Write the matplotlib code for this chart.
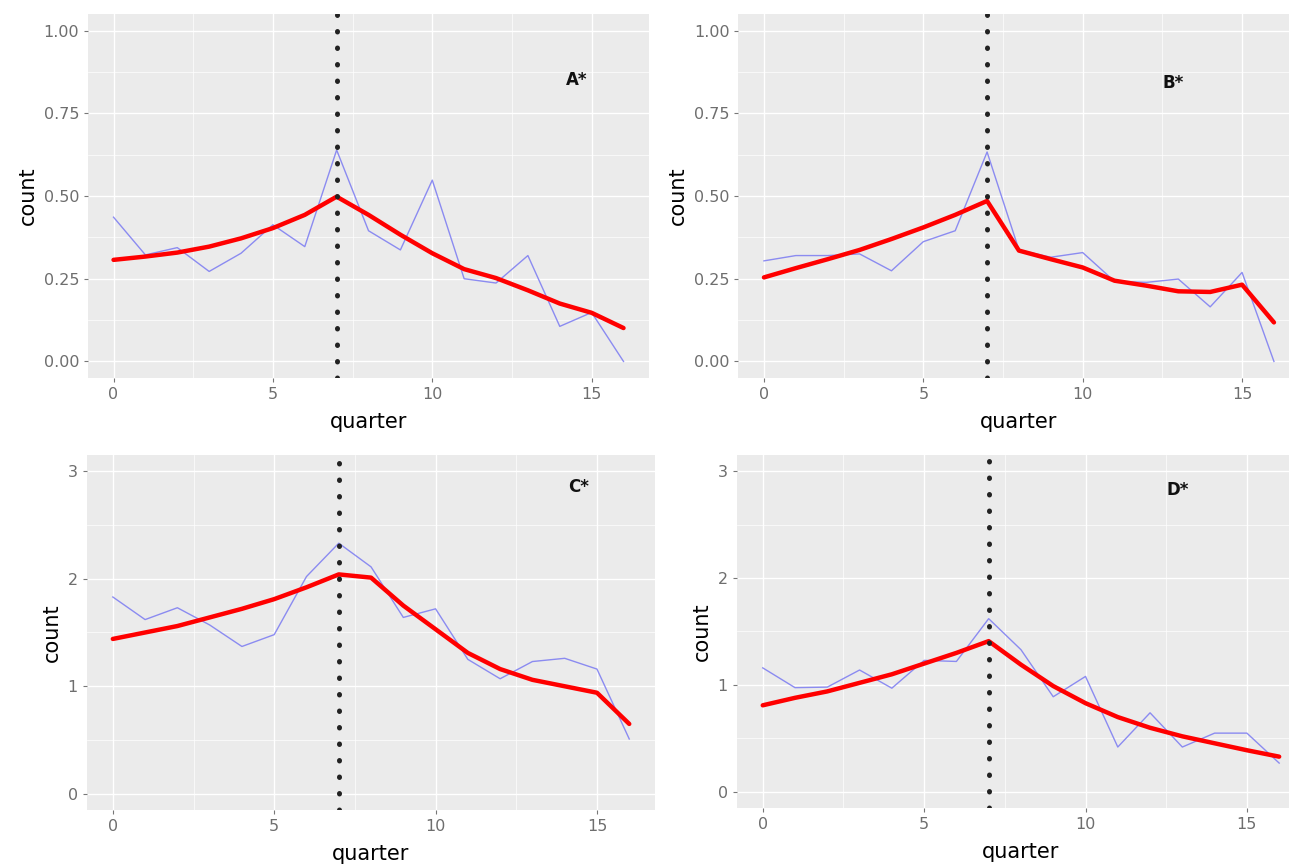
import numpy as np
import matplotlib.pyplot as plt
from matplotlib.ticker import MultipleLocator

quarters = list(range(17))

a_obs = [0.436, 0.322, 0.344, 0.272, 0.327, 0.413, 0.347, 0.639, 0.395, 0.337,
         0.548, 0.250, 0.237, 0.320, 0.106, 0.148, 0.000]
a_fit = [0.307, 0.317, 0.329, 0.347, 0.372, 0.403, 0.443, 0.498, 0.443, 0.383,
         0.327, 0.279, 0.252, 0.215, 0.175, 0.147, 0.101]

b_obs = [0.304, 0.320, 0.320, 0.325, 0.274, 0.362, 0.395, 0.633, 0.337, 0.315,
         0.329, 0.242, 0.239, 0.249, 0.165, 0.269, 0.000]
b_fit = [0.254, 0.282, 0.309, 0.337, 0.370, 0.405, 0.443, 0.485, 0.335, 0.309,
         0.284, 0.244, 0.229, 0.212, 0.210, 0.232, 0.118]

c_obs = [1.83, 1.62, 1.73, 1.57, 1.37, 1.48, 2.02, 2.33, 2.11, 1.64,
         1.72, 1.25, 1.07, 1.23, 1.26, 1.16, 0.51]
c_fit = [1.44, 1.50, 1.56, 1.64, 1.72, 1.81, 1.92, 2.04, 2.01, 1.75,
         1.53, 1.31, 1.16, 1.06, 1.00, 0.94, 0.65]

d_obs = [1.16, 0.975, 0.98, 1.14, 0.97, 1.23, 1.22, 1.62, 1.33, 0.89,
         1.08, 0.42, 0.74, 0.42, 0.55, 0.55, 0.27]
d_fit = [0.81, 0.88, 0.94, 1.02, 1.10, 1.20, 1.30, 1.41, 1.19, 0.99,
         0.83, 0.70, 0.60, 0.52, 0.455, 0.39, 0.33]

panels = [
    ("A*", a_obs, a_fit, [0.0683, 0.5625, 0.4352, 0.4213], "small", (14.2, 0.85)),
    ("B*", b_obs, b_fit, [0.5729, 0.5625, 0.4352, 0.4213], "small", (12.5, 0.84)),
    ("C*", c_obs, c_fit, [0.0675, 0.0625, 0.4407, 0.4109], "big", (14.1, 2.85)),
    ("D*", d_obs, d_fit, [0.5717, 0.0648, 0.4407, 0.4086], "big", (12.5, 2.82)),
]

fig = plt.figure(figsize=(12.89, 8.64), dpi=100)

for name, obs, fit, pos, scale, lab_xy in panels:
    ax = fig.add_axes(pos)
    ax.set_facecolor("#EBEBEB")
    for s in ax.spines.values():
        s.set_visible(False)

    ax.set_xlim(-0.8, 16.8)
    ax.xaxis.set_major_locator(MultipleLocator(5))
    ax.xaxis.set_minor_locator(MultipleLocator(2.5))
    if scale == "small":
        ax.set_ylim(-0.05, 1.05)
        ax.set_yticks([0, 0.25, 0.5, 0.75, 1.0])
        ax.set_yticklabels(["0.00", "0.25", "0.50", "0.75", "1.00"])
        ax.yaxis.set_minor_locator(MultipleLocator(0.125))
    else:
        ax.set_ylim(-0.15, 3.15)
        ax.set_yticks([0, 1, 2, 3])
        ax.yaxis.set_minor_locator(MultipleLocator(0.5))

    ax.grid(which="major", color="white", linewidth=1.0)
    ax.grid(which="minor", color="white", linewidth=0.5)
    ax.set_axisbelow(True)
    ax.tick_params(which="major", length=3, color="#777777", labelcolor="#6E6E6E",
                   labelsize=11.5)
    ax.tick_params(which="minor", length=0)

    ax.plot(quarters, obs, color="#7A7AF2", linewidth=1.0, alpha=0.85)
    ax.plot(quarters, fit, color="#FF0000", linewidth=3.2, solid_capstyle="round")
    ax.axvline(7, color="#222222", linestyle=(0, (0.1, 3.2)), linewidth=3.6,
               dash_capstyle="round")

    ax.text(lab_xy[0], lab_xy[1], name, fontsize=12, fontweight="bold",
            ha="left", va="center", color="#111111")

    ax.set_xlabel("quarter", fontsize=15, labelpad=7)
    ax.set_ylabel("count", fontsize=15)

fig.savefig("out.png", dpi=100)
plt.close(fig)
